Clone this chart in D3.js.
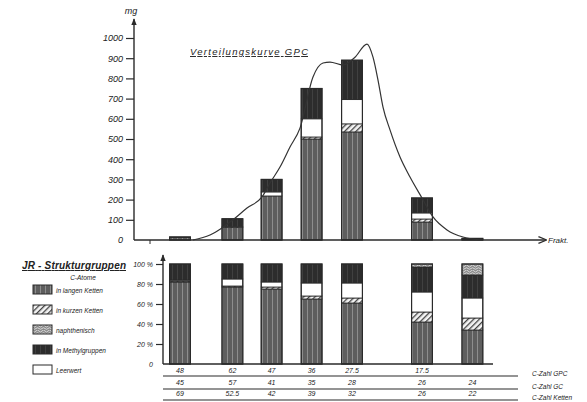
<!DOCTYPE html>
<html>
<head>
<meta charset="utf-8">
<script src="https://cdn.jsdelivr.net/npm/d3@7"></script>
<style>
  body { margin: 0; background: #fff; }
  text { font-family: "Liberation Sans", "DejaVu Sans", sans-serif; font-style: italic; fill: #222; }
</style>
</head>
<body>
<svg id="chart" width="587" height="402"></svg>
<script>
// fractions (position along the elution axis) and measured amounts
const fracPos = [1.15, 2.46, 3.44, 4.44, 5.45, 7.2, 8.46];

// mg per structure group (top chart)
const mgLong   = [12, 63, 218, 500, 535, 89, 4];
const mgShort  = [0, 2, 0, 10, 40, 15, 0];
const mgBlank  = [0, 0, 20, 90, 120, 30, 0];
const mgMethyl = [3, 40, 62, 150, 195, 74, 4];
const mgNaph   = [0, 0, 0, 0, 0, 0, 0];

// percent per structure group (bottom chart)
const pctLong   = [82, 77, 75, 65, 61, 42, 34];
const pctShort  = [1, 1, 2, 3, 5, 10, 12];
const pctBlank  = [1, 7, 5, 13, 15, 20, 20];
const pctMethyl = [16, 15, 18, 19, 19, 25, 23];
const pctNaph   = [0, 0, 0, 0, 0, 3, 11];

// GPC distribution curve
const curveFrac = [1.475, 1.9, 2.2, 2.475, 2.825, 3.2, 3.4, 3.65, 3.9, 4.15, 4.475, 4.725, 4.9, 5.225, 5.525, 5.825, 5.975, 6.1, 6.225, 6.4, 6.65, 6.9, 7.2, 7.475, 7.825, 8.225, 8.725];
const curveMg   = [0, 25, 60, 100, 158, 213, 282, 361, 460, 554, 807, 876, 881, 866, 905, 970, 905, 792, 658, 545, 411, 312, 208, 114, 50, 15, 0];

// table rows below the bottom chart
const rowGPC   = ["48", "62", "47", "36", "27.5", "17.5", ""];
const rowGC    = ["45", "57", "41", "35", "28", "26", "24"];
const rowKette = ["69", "52.5", "42", "39", "32", "26", "22"];
const rowLabels = ["C-Zahl GPC", "C-Zahl GC", "C-Zahl Ketten"];

const mgTicks  = [0, 100, 200, 300, 400, 500, 600, 700, 800, 900, 1000];
const pctTicks = [0, 20, 40, 60, 80, 100];

const groupNames = ["in langen Ketten", "in kurzen Ketten", "naphthenisch", "in Methylgruppen", "Leerwert"];
const groupKeys  = ["long", "short", "naph", "methyl", "blank"];
const stackOrder = ["long", "short", "blank", "methyl", "naph"];

const svg = d3.select("#chart");
const ink = "#2a2a2a";

// ---- patterns
const defs = svg.append("defs");

let p = defs.append("pattern").attr("id", "pat-long").attr("patternUnits", "userSpaceOnUse").attr("width", 5).attr("height", 5);
p.append("rect").attr("width", 5).attr("height", 5).attr("fill", "#5e5e5e");
p.append("rect").attr("x", 2).attr("width", 1).attr("height", 5).attr("fill", "#8e8e8e");

p = defs.append("pattern").attr("id", "pat-short").attr("patternUnits", "userSpaceOnUse").attr("width", 4).attr("height", 4)
  .attr("patternTransform", "rotate(-45)");
p.append("rect").attr("width", 4).attr("height", 4).attr("fill", "#f4f4f4");
p.append("rect").attr("width", 4).attr("height", 1.3).attr("fill", "#444");

p = defs.append("pattern").attr("id", "pat-naph").attr("patternUnits", "userSpaceOnUse").attr("width", 6).attr("height", 5);
p.append("rect").attr("width", 6).attr("height", 5).attr("fill", "#8a8a8a");
p.append("path").attr("d", "M0,1 Q1.5,3 3,1 T6,1 M0,3.5 Q1.5,5 3,3.5 T6,3.5").attr("fill", "none").attr("stroke", "#e0e0e0").attr("stroke-width", 0.9);

p = defs.append("pattern").attr("id", "pat-methyl").attr("patternUnits", "userSpaceOnUse").attr("width", 5).attr("height", 5);
p.append("rect").attr("width", 5).attr("height", 5).attr("fill", "#2c2c2c");
p.append("rect").attr("x", 2).attr("width", 1).attr("height", 5).attr("fill", "#404040");

p = defs.append("pattern").attr("id", "pat-blank").attr("patternUnits", "userSpaceOnUse").attr("width", 5).attr("height", 5);
p.append("rect").attr("width", 5).attr("height", 5).attr("fill", "#fff");

defs.append("marker").attr("id", "arrow").attr("viewBox", "0 0 10 10").attr("refX", 9).attr("refY", 5)
  .attr("markerWidth", 6).attr("markerHeight", 6).attr("orient", "auto")
  .append("path").attr("d", "M0,1 L10,5 L0,9").attr("fill", "none").attr("stroke", ink).attr("stroke-width", 1.5);

defs.append("marker").attr("id", "arrowFill").attr("viewBox", "0 0 10 10").attr("refX", 9).attr("refY", 5)
  .attr("markerWidth", 5).attr("markerHeight", 6).attr("orient", "auto")
  .append("path").attr("d", "M0,1 L10,5 L0,9 Z").attr("fill", ink);

// ---- scales
const x = d3.scaleLinear().domain([0, 10.3]).range([134, 546]);
const barW = x(0.52) - x(0);
const yMg = d3.scaleLinear().domain([0, 1000]).range([240, 38]);
const yPct = d3.scaleLinear().domain([0, 100]).range([364, 264]);

function buildRows(vals) {
  return fracPos.map((f, i) => {
    const r = { frac: f };
    groupKeys.forEach(k => r[k] = vals[k][i]);
    return r;
  });
}

const mgRows = buildRows({ long: mgLong, short: mgShort, naph: mgNaph, methyl: mgMethyl, blank: mgBlank });
const pctRows = buildRows({ long: pctLong, short: pctShort, naph: pctNaph, methyl: pctMethyl, blank: pctBlank });

function drawBars(rows, y) {
  const series = d3.stack().keys(stackOrder)(rows);
  const g = svg.append("g");
  series.forEach(s => {
    g.selectAll(null)
      .data(s.filter(d => d[1] > d[0]))
      .enter()
      .append("rect")
      .attr("x", d => x(d.data.frac) - barW / 2)
      .attr("y", d => y(d[1]))
      .attr("width", barW)
      .attr("height", d => y(d[0]) - y(d[1]))
      .attr("fill", `url(#pat-${s.key})`)
      .attr("stroke", ink)
      .attr("stroke-width", 0.8);
  });
  // outline
  g.selectAll(".outline")
    .data(rows)
    .enter()
    .append("rect")
    .attr("x", d => x(d.frac) - barW / 2)
    .attr("y", d => y(stackOrder.reduce((a, k) => a + d[k], 0)))
    .attr("width", barW)
    .attr("height", d => y(0) - y(stackOrder.reduce((a, k) => a + d[k], 0)))
    .attr("fill", "none")
    .attr("stroke", ink)
    .attr("stroke-width", 1.2);
}

// ---- top chart
const axMg = svg.append("g")
  .attr("transform", `translate(${x(0)},0)`)
  .call(d3.axisLeft(yMg).tickValues(mgTicks).tickSize(8).tickPadding(3).tickFormat(d => d));
axMg.select(".domain").remove();
axMg.selectAll("line").attr("stroke", ink).attr("stroke-width", 1.2);
axMg.selectAll("text").attr("font-size", 9).attr("font-style", "italic").attr("font-family", "Liberation Sans, sans-serif").attr("fill", "#222");
axMg.selectAll(".tick").filter(d => d === 0).select("line").remove();

svg.append("line").attr("x1", x(0)).attr("y1", yMg(0)).attr("x2", x(0)).attr("y2", 19)
  .attr("stroke", ink).attr("stroke-width", 1.4).attr("marker-end", "url(#arrowFill)");
svg.append("text").attr("x", 131).attr("y", 14).attr("text-anchor", "middle").attr("font-size", 9).text("mg");

drawBars(mgRows, yMg);

svg.append("line").attr("x1", x(0)).attr("y1", yMg(0)).attr("x2", 546).attr("y2", yMg(0))
  .attr("stroke", ink).attr("stroke-width", 1.4).attr("marker-end", "url(#arrow)");
svg.append("line").attr("x1", 150).attr("y1", yMg(0)).attr("x2", 150).attr("y2", yMg(0) + 4)
  .attr("stroke", ink).attr("stroke-width", 1);
svg.append("text").attr("x", 548).attr("y", 243).attr("font-size", 8).text("Frakt.");

const curve = d3.line()
  .x((d, i) => x(curveFrac[i]))
  .y(d => yMg(d))
  .curve(d3.curveMonotoneX);
svg.append("path").datum(curveMg).attr("d", curve)
  .attr("fill", "none").attr("stroke", "#333").attr("stroke-width", 1.2);

svg.append("text").attr("x", 190).attr("y", 55).attr("font-size", 9.5).attr("textLength", 118)
  .attr("text-decoration", "underline").text("Verteilungskurve GPC");

// ---- bottom chart
const axPct = svg.append("g")
  .attr("transform", "translate(163,0)")
  .call(d3.axisLeft(yPct).tickValues(pctTicks).tickSize(7).tickPadding(3).tickFormat(d => d === 0 ? "0" : d + " %"));
axPct.select(".domain").remove();
axPct.selectAll("line").attr("stroke", ink).attr("stroke-width", 1.2);
axPct.selectAll("text").attr("font-size", 7).attr("font-style", "italic").attr("font-family", "Liberation Sans, sans-serif").attr("fill", "#222");
axPct.selectAll(".tick").filter(d => d === 0).select("line").remove();

svg.append("line").attr("x1", 163).attr("y1", yPct(0)).attr("x2", 163).attr("y2", 255)
  .attr("stroke", ink).attr("stroke-width", 1.4).attr("marker-end", "url(#arrowFill)");

drawBars(pctRows, yPct);

svg.append("line").attr("x1", 163).attr("y1", yPct(0)).attr("x2", 493).attr("y2", yPct(0))
  .attr("stroke", ink).attr("stroke-width", 1.3);

// table
const rowY = [373, 385, 396];
const lineY = [376, 389, 400];
[rowGPC, rowGC, rowKette].forEach((row, r) => {
  svg.selectAll(null).data(row).enter().append("text")
    .attr("x", (d, i) => x(fracPos[i]))
    .attr("y", rowY[r])
    .attr("text-anchor", "middle")
    .attr("font-size", 7)
    .text(d => d);
  svg.append("line").attr("x1", 163).attr("y1", lineY[r]).attr("x2", 518).attr("y2", lineY[r])
    .attr("stroke", ink).attr("stroke-width", 1.1);
  svg.append("text").attr("x", 532).attr("y", lineY[r]).attr("font-size", 6.5).text(rowLabels[r]);
});

// ---- legend
const lg = svg.append("g");
lg.append("text").attr("x", 22).attr("y", 269).attr("font-size", 10).attr("font-weight", "bold")
  .attr("textLength", 104).attr("text-decoration", "underline").text("JR - Strukturgruppen");
lg.append("text").attr("x", 83).attr("y", 280).attr("text-anchor", "middle").attr("font-size", 6.5).text("C-Atome");
const legItems = lg.selectAll(".leg").data(groupKeys).enter().append("g")
  .attr("transform", (d, i) => `translate(33,${285 + i * 20})`);
legItems.append("rect").attr("width", 19).attr("height", 9)
  .attr("fill", d => `url(#pat-${d})`).attr("stroke", ink).attr("stroke-width", 1);
legItems.append("text").attr("x", 23).attr("y", 7.5).attr("font-size", 6.5)
  .text((d, i) => groupNames[i]);
</script>
</body>
</html>
